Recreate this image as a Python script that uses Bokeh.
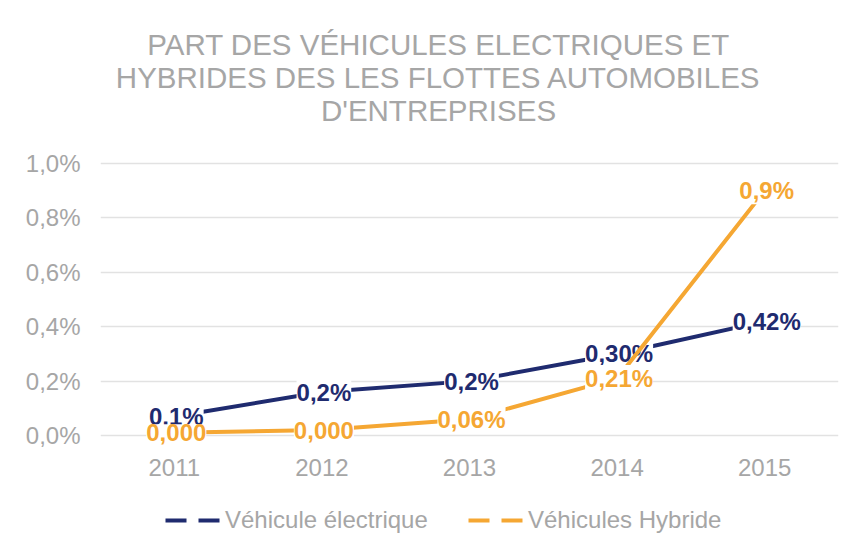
from bokeh.plotting import figure
from bokeh.layouts import column
from bokeh.models import (FactorRange, Range1d, ColumnDataSource, CustomJSTickFormatter,
                          Legend, LegendItem, FixedTicker)
from bokeh.core.properties import value
from bokeh.embed import file_html
from bokeh.resources import INLINE

# ---- data ----
years = ["2011", "2012", "2013", "2014", "2015"]
electrique = [0.07, 0.16, 0.20, 0.30, 0.42]
hybride = [0.01, 0.02, 0.06, 0.21, 0.90]
electrique_labels = ["0,1%", "0,2%", "0,2%", "0,30%", "0,42%"]
hybride_labels = ["0,000", "0,000", "0,06%", "0,21%", "0,9%"]
y_ticks = [0.0, 0.2, 0.4, 0.6, 0.8, 1.0]
title_lines = ["PART DES VÉHICULES ELECTRIQUES ET",
               "HYBRIDES DES LES FLOTTES AUTOMOBILES",
               "D'ENTREPRISES"]
series_names = ["Véhicule électrique", "Véhicules Hybride"]

NAVY = "#1f2b6f"
ORANGE = "#f5a733"
GREY = "#a6a6a6"
FONT = value("Liberation Sans")

p = figure(width=839, height=490,
           x_range=FactorRange(*years, range_padding=0),
           y_range=Range1d(-0.055, 1.533),
           output_backend="svg", toolbar_location=None,
           min_border_left=100, min_border_right=1,
           min_border_top=18, min_border_bottom=40)
p.outline_line_color = None
p.background_fill_color = "white"
p.border_fill_color = "white"

# axes
p.yaxis.ticker = FixedTicker(ticks=y_ticks)
p.yaxis.formatter = CustomJSTickFormatter(code="return tick.toFixed(1).replace('.', ',') + '%';")
for ax in (p.xaxis[0], p.yaxis[0]):
    ax.axis_line_color = None
    ax.major_tick_line_color = None
    ax.minor_tick_line_color = None
    ax.major_tick_out = 0
    ax.major_tick_in = 0
    ax.major_label_text_font_size = "24px"
    ax.major_label_text_color = GREY
    ax.major_label_text_font = "Liberation Sans"
p.yaxis.major_label_standoff = 20
p.xaxis.major_label_standoff = 8

p.xgrid.grid_line_color = None
p.ygrid.ticker = FixedTicker(ticks=y_ticks)
p.ygrid.grid_line_color = "#e2e2e2"
p.ygrid.grid_line_width = 1.5

# title (inside the frame, above the 1,0% line)
tsrc = ColumnDataSource(dict(x=["2013"] * 3, y=[1.0] * 3, text=title_lines,
                             yo=[-119, -86, -53]))
p.text(x="x", y="y", text="text", source=tsrc, x_offset=-31, y_offset="yo",
       text_align="center", text_baseline="middle", text_font=FONT,
       text_font_size="29.5px", text_color=GREY)

# series
esrc = ColumnDataSource(dict(x=years, y=electrique, lab=electrique_labels))
hsrc = ColumnDataSource(dict(x=years, y=hybride, lab=hybride_labels))

p.line(x="x", y="y", source=esrc, line_color=NAVY, line_width=4)
p.text(x="x", y="y", text="lab", source=esrc, text_align="center", text_baseline="middle",
       x_offset=2, text_font=FONT, text_font_size="24px", text_font_style="bold",
       text_color=NAVY, background_fill_color="white")
p.line(x="x", y="y", source=hsrc, line_color=ORANGE, line_width=4)
p.text(x="x", y="y", text="lab", source=hsrc, text_align="center", text_baseline="middle",
       x_offset=2, text_font=FONT, text_font_size="24px", text_font_style="bold",
       text_color=ORANGE, background_fill_color="white")

# legend strip (separate figure so the legend sits below the axis)
lf = figure(width=839, height=48, x_range=Range1d(0, 1), y_range=Range1d(0, 1),
            output_backend="svg", toolbar_location=None,
            x_axis_type=None, y_axis_type=None,
            min_border_left=0, min_border_right=0, min_border_top=0, min_border_bottom=0)
lf.outline_line_color = None
lf.xgrid.visible = False
lf.ygrid.visible = False
lsrc = ColumnDataSource(dict(x=[0.5], y=[float("nan")]))
d1 = lf.line(x="x", y="y", source=lsrc, line_color=NAVY, line_width=4, line_dash="21 12")
d2 = lf.line(x="x", y="y", source=lsrc, line_color=ORANGE, line_width=4, line_dash="21 12")
legend = Legend(items=[LegendItem(label=series_names[0], renderers=[d1]),
                       LegendItem(label=series_names[1], renderers=[d2])],
                orientation="horizontal", location=(65, 4),
                margin=0, padding=0, spacing=0,
                glyph_width=55, glyph_height=28, label_height=28,
                label_width=243, label_standoff=5,
                label_text_font="Liberation Sans", label_text_font_size="24px",
                label_text_color=GREY,
                border_line_color=None, background_fill_alpha=0)
lf.add_layout(legend, "center")

layout = column(p, lf, spacing=0)
open("out.html", "w").write(file_html(layout, INLINE))
